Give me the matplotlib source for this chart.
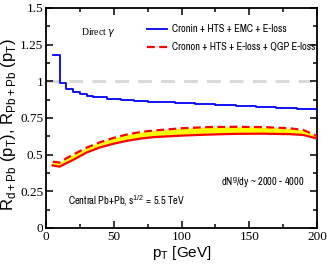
import matplotlib
matplotlib.use("Agg")
import matplotlib.pyplot as plt
from matplotlib import font_manager
import numpy as np

# ---- data ----
pt_blue = [5, 10, 15, 20, 25, 30, 35, 45, 55, 65, 75, 85, 95, 110, 125, 140, 155, 170, 185, 200]
r_blue = [1.18, 0.99, 0.945, 0.925, 0.911, 0.897, 0.89, 0.882, 0.874, 0.868, 0.862, 0.857,
          0.852, 0.845, 0.838, 0.831, 0.823, 0.816, 0.808, 0.80]

pt_band = [5, 10, 15, 20, 30, 40, 50, 60, 70, 80, 100, 120, 140, 160, 180, 190, 200]
r_upper = [0.452, 0.446, 0.475, 0.50, 0.548, 0.585, 0.615, 0.638, 0.655, 0.665, 0.68,
           0.688, 0.69, 0.688, 0.68, 0.668, 0.627]
r_lower = [0.427, 0.418, 0.442, 0.464, 0.515, 0.55, 0.575, 0.595, 0.61, 0.62, 0.63,
           0.637, 0.642, 0.643, 0.64, 0.634, 0.61]

ref_x = [0, 200]
ref_y = [1.0, 1.0]

label_blue = "Cronin + HTS + EMC + E-loss"
label_red = "Cronon + HTS + E-loss + QGP E-loss"

# ---- fonts ----
installed = set(f.name for f in font_manager.fontManager.ttflist)
narrow = "Liberation Sans"
for cand in ["Liberation Sans Narrow", "Arial Narrow", "Archivo Narrow", "PT Sans Narrow",
             "Roboto Condensed", "Barlow Semi Condensed", "Asap Condensed"]:
    if cand in installed:
        narrow = cand
        break

serif = "Liberation Serif" if "Liberation Serif" in installed else "DejaVu Serif"
sans = "Liberation Sans" if "Liberation Sans" in installed else "DejaVu Sans"
plt.rcParams["font.family"] = serif
plt.rcParams["mathtext.fontset"] = "custom"
plt.rcParams["mathtext.rm"] = serif
plt.rcParams["mathtext.sf"] = sans

fig = plt.figure(figsize=(3.27, 2.73), dpi=100)
ax = fig.add_axes([46/327, 45/273, 271/327, 220/273])

ax.plot(ref_x, ref_y, color="#d9d9d9", lw=2.2, dashes=(4.5, 3.0), zorder=1)
ax.fill_between(pt_band, r_lower, r_upper, color="#ffff00", lw=0, zorder=2)
ax.plot(pt_band, r_lower, color="#ff0000", lw=1.6, zorder=3)
hr, = ax.plot(pt_band, r_upper, color="#ff0000", lw=1.6, dashes=(3.5, 2.0), zorder=3, label=label_red)
hb, = ax.plot(pt_blue, r_blue, color="#0000ff", lw=1.3, drawstyle="steps-post", zorder=4, label=label_blue)

ax.set_xlim(0, 200)
ax.set_ylim(0, 1.5)
ax.set_xticks([0, 50, 100, 150, 200])
ax.set_xticks(np.arange(0, 201, 25), minor=True)
ax.set_yticks([0, 0.25, 0.5, 0.75, 1.0, 1.25, 1.5])
ax.set_yticklabels(["0", "0.25", "0.5", "0.75", "1", "1.25", "1.5"])
ax.set_yticks(np.arange(0, 1.51, 0.125), minor=True)
ax.tick_params(which="both", direction="in", top=True, right=True, width=1.1)
ax.tick_params(which="major", length=5, labelsize=9.5, pad=2, labelfontfamily=serif)
ax.tick_params(which="minor", length=3)
for s in ax.spines.values():
    s.set_linewidth(1.3)

ax.set_xlabel(r"p$_\mathsf{T}$ [GeV]", fontfamily=sans, fontsize=11, labelpad=1)
ax.set_ylabel(r"R$_\mathsf{d+Pb}$ (p$_\mathsf{T}$), R$_\mathsf{Pb+Pb}$ (p$_\mathsf{T}$)",
              fontfamily=sans, fontsize=12, labelpad=2)
ax.yaxis.set_label_coords(-0.105, 0.47)

ax.text(25.5, 1.33, r"Direct $\gamma$", fontfamily=serif, fontsize=7, va="center", ha="left")
ax.text(16.5, 0.184, r"Central Pb+Pb, s$^\mathsf{1/2}$ = 5.5 TeV", fontfamily=narrow,
        fontsize=7.5, va="center", ha="left")
ax.text(129.5, 0.31, r"dN$^\mathsf{g}$/dy ~ 2000 - 4000", fontfamily=narrow,
        fontsize=7.5, va="center", ha="left")

leg = ax.legend(handles=[hb, hr], loc="upper left", bbox_to_anchor=(0.373, 0.925),
                frameon=False, prop={"family": narrow, "size": 7.5}, handlelength=1.9,
                handletextpad=0.5, labelspacing=0.75, borderpad=0, borderaxespad=0)

fig.savefig("out.png", dpi=100)
